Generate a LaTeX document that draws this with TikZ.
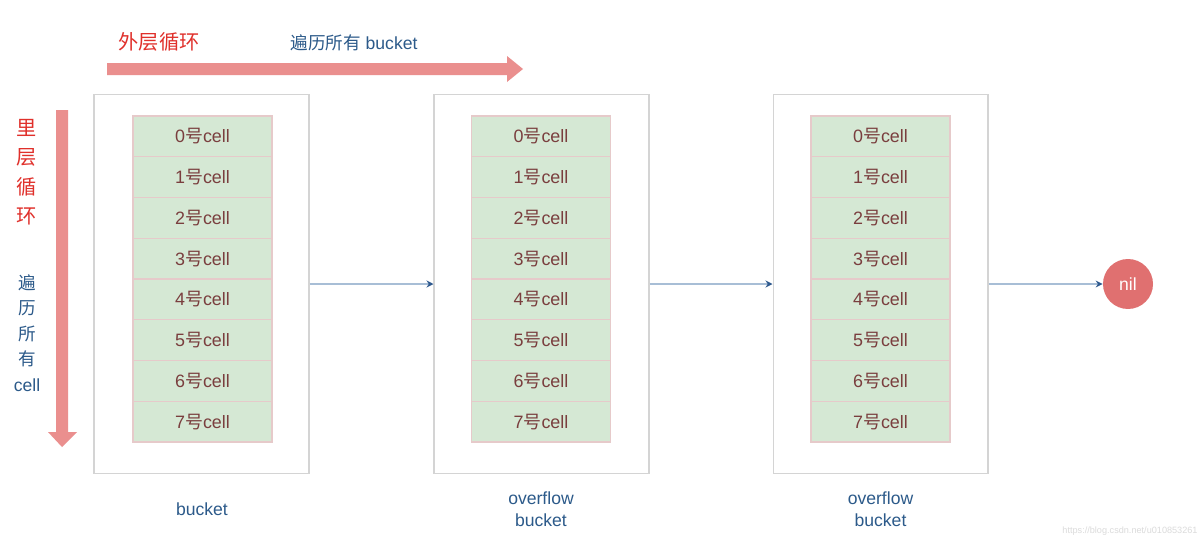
\documentclass[tikz,border=0pt]{standalone}
\usepackage{fontspec}
\setmainfont{Liberation Sans}
\newfontfamily\cjk{Noto Sans CJK SC}
\usetikzlibrary{arrows.meta}
\definecolor{cellfill}{HTML}{D5E8D4}
\definecolor{cellline}{HTML}{E6CACA}
\definecolor{celltext}{HTML}{7A3E3E}
\definecolor{boxline}{HTML}{D4D4D4}
\definecolor{linkline}{HTML}{A8BED6}
\definecolor{linkhead}{HTML}{2F5A8F}
\definecolor{bigarrow}{HTML}{EA8F8E}
\definecolor{redtext}{HTML}{E0302B}
\definecolor{bluetext}{HTML}{2C5A8A}
\definecolor{nilfill}{HTML}{E07070}
\tikzset{
  bucketbox/.style={draw=boxline, line width=0.6pt, fill=white, minimum width=4.3cm, minimum height=7.6cm, inner sep=0pt},
  cellbox/.style={draw=cellline, line width=0.6pt, fill=cellfill, minimum width=2.78cm, minimum height=0.815cm, inner sep=0pt, text=celltext, font=\fontsize{10.2}{12}\selectfont},
  link/.style={draw=linkline, line width=0.7pt, -{Stealth[length=4pt,width=4pt,color=linkhead]}},
  redlabel/.style={text=redtext, font=\cjk\fontsize{11.5}{16.8}\selectfont, inner sep=0pt},
  bluelabel/.style={text=bluetext, font=\fontsize{10}{12.5}\selectfont, inner sep=0pt, align=center},
  bigfill/.style={fill=bigarrow}
}
\begin{document}
\begin{tikzpicture}[x=0.02cm,y=-0.02cm]
\useasboundingbox (0,0) rectangle (1200,541);
\fill[white] (0,0) rectangle (1200,541);

% big arrows
\fill[bigfill] (107,63) -- (507,63) -- (507,56) -- (523,69) -- (507,82) -- (507,75) -- (107,75) -- cycle;
\fill[bigfill] (56,110) -- (68,110) -- (68,432) -- (77,432) -- (62,447) -- (48,432) -- (56,432) -- cycle;

% labels
\node[redlabel] (outer) at (159,42) {外层循环};
\node[bluelabel] (outerdesc) at (354,43) {{\cjk 遍历所有} bucket};
\node[redlabel, align=center] (inner) at (27,172) {里\\层\\循\\环};
\node[bluelabel, font=\fontsize{10}{14.5}\selectfont] (innerdesc) at (27,333) {{\cjk 遍}\\{\cjk 历}\\{\cjk 所}\\{\cjk 有}\\cell};

% buckets
\node[bucketbox] (b1) at (201.5,284) {};
\node[bucketbox] (b2) at (541.5,284) {};
\node[bucketbox] (b3) at (880.5,284) {};

\foreach \b/\x in {1/202.5, 2/541, 3/880.5} {
  \foreach \i in {0,...,7} {
    \node[cellbox] (b\b c\i) at (\x, 116+40.75*\i+20.375) {\i{\cjk 号}cell};
  }
}

\node[bluelabel] (l1) at (202,509) {bucket};
\node[bluelabel] (l2) at (541,509) {overflow\\bucket};
\node[bluelabel] (l3) at (880.5,509) {overflow\\bucket};

% nil
\node[circle, fill=nilfill, minimum size=1cm, inner sep=0pt, text=white, font=\fontsize{10}{12}\selectfont] (nil) at (1128,284) {nil};

% connectors
\draw[link] (b1.east) -- (b2.west);
\draw[link] (b2.east) -- (b3.west);
\draw[link] (b3.east) -- (nil.west);

% watermark
\node[text=black!14, font=\fontsize{5.2}{6}\selectfont, inner sep=0pt] (wm) at (1130,531) {https://blog.csdn.net/u010853261};
\end{tikzpicture}
\end{document}
